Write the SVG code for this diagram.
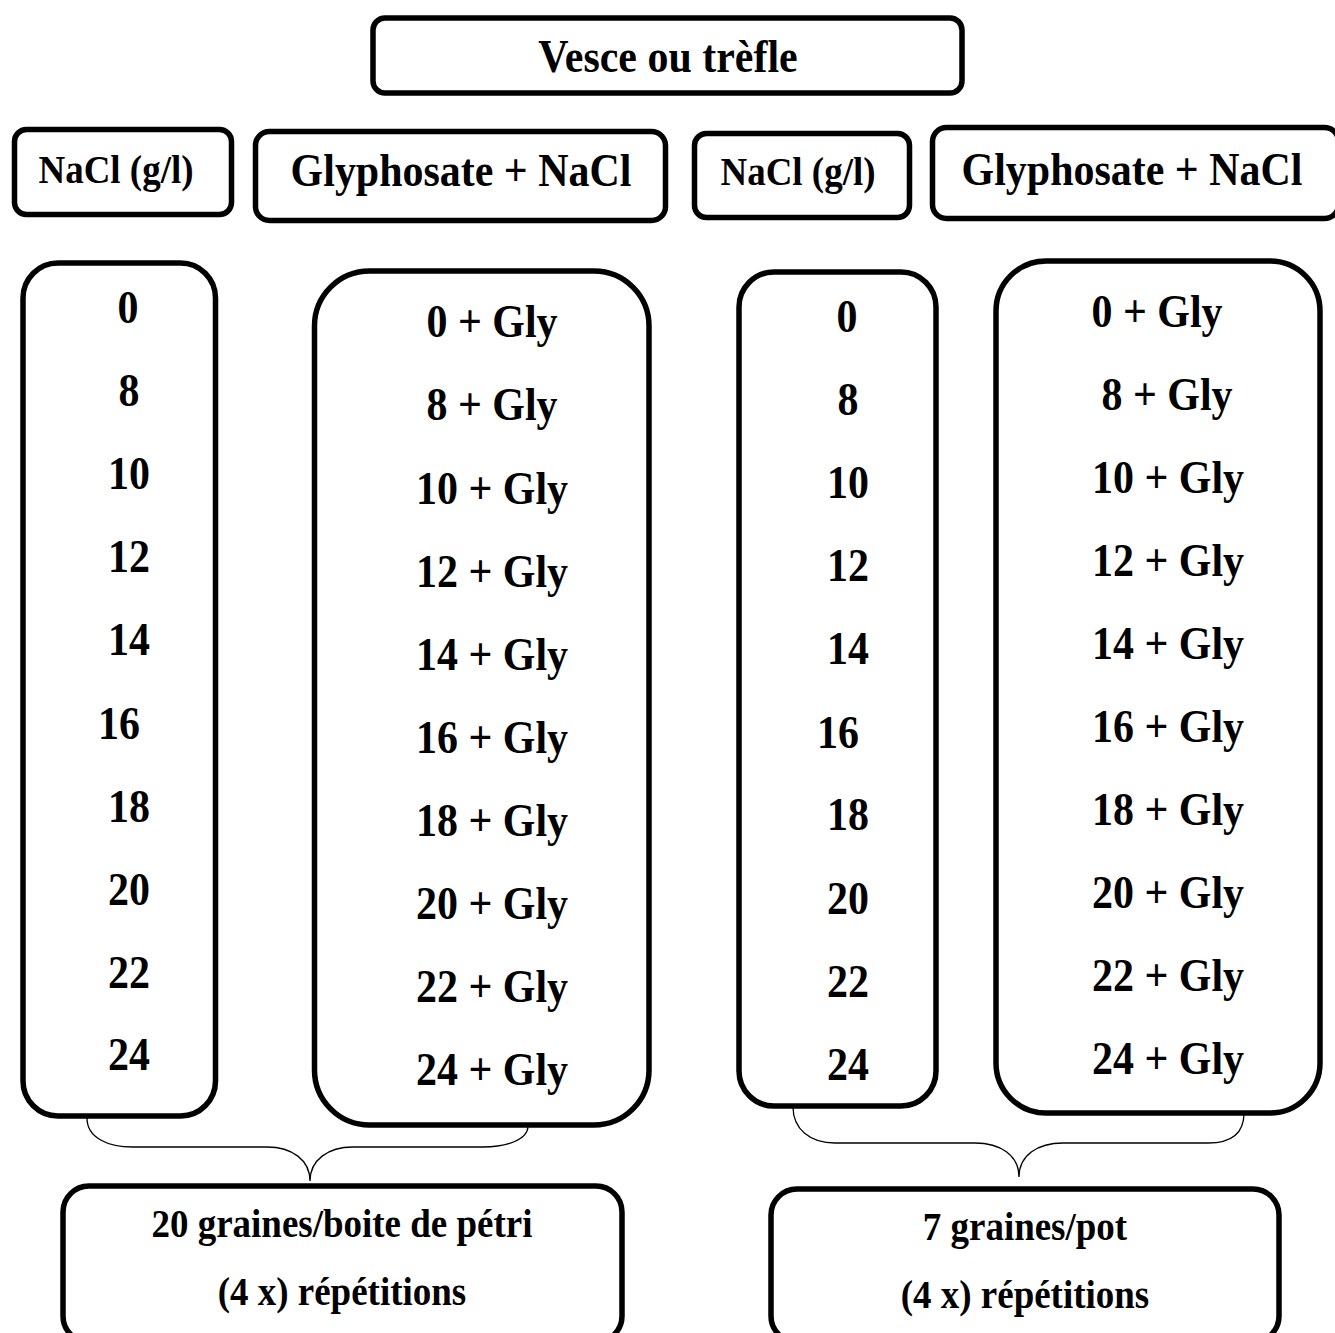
<svg xmlns="http://www.w3.org/2000/svg" width="1335" height="1333" viewBox="0 0 1335 1333">
<style>
.box{fill:#fff;stroke:#000;stroke-width:5.5}
.t{font-family:"Liberation Serif","Times New Roman",serif;font-weight:bold;fill:#000;text-anchor:middle}
.big{font-size:45.6px}
.hd{font-size:40.2px}
.num{font-size:45.6px}
.ft{font-size:40.2px}
.brace{fill:none;stroke:#000;stroke-width:1.3}
</style>
<rect width="1335" height="1333" fill="#fff"/>
<g id="connectors">
<path class="brace" d="M 87 1118 C 87 1138, 108 1147, 133 1147 L 267 1147 C 292 1147, 310 1160, 310 1181 C 310 1160, 328 1147, 353 1147 L 483 1147 C 506 1147, 528 1140, 528 1126"/>
<path class="brace" d="M 793 1107 C 793 1129, 810 1143, 835 1143 L 975 1143 C 1000 1143, 1019 1155, 1019 1177 C 1019 1155, 1038 1143, 1063 1143 L 1208 1143 C 1230 1143, 1244 1134, 1244 1113"/>
</g>
<g id="title">
<rect class="box" x="373" y="18" width="589" height="75" rx="12"/>
<g transform="scale(0.92,1)"><text class="t big" x="726.1" y="72">Vesce ou trèfle</text></g>
</g>
<g id="hdr-nacl-1">
<rect class="box" x="14.5" y="129.5" width="217" height="85" rx="12"/>
<g transform="scale(0.92,1)"><text class="t hd" x="126.1" y="183">NaCl (g/l)</text></g>
</g>
<g id="hdr-gly-1">
<rect class="box" x="255.5" y="131.5" width="410" height="89" rx="14"/>
<g transform="scale(0.92,1)"><text class="t big" x="501.1" y="186">Glyphosate + NaCl</text></g>
</g>
<g id="hdr-nacl-2">
<rect class="box" x="694.5" y="133.5" width="215" height="84" rx="12"/>
<g transform="scale(0.92,1)"><text class="t hd" x="867.4" y="185">NaCl (g/l)</text></g>
</g>
<g id="hdr-gly-2">
<rect class="box" x="932.5" y="127.5" width="406" height="91" rx="14"/>
<g transform="scale(0.92,1)"><text class="t big" x="1230.4" y="185">Glyphosate + NaCl</text></g>
</g>
<g id="col-nacl-1">
<rect class="box" x="23" y="263" width="192.5" height="853" rx="35"/>
<g transform="scale(0.92,1)">
<text class="t num" x="139.1" y="323">0</text>
<text class="t num" x="140.2" y="406">8</text>
<text class="t num" x="140.2" y="489">10</text>
<text class="t num" x="140.2" y="572">12</text>
<text class="t num" x="140.2" y="655">14</text>
<text class="t num" x="129.3" y="739">16</text>
<text class="t num" x="140.2" y="822">18</text>
<text class="t num" x="140.2" y="905">20</text>
<text class="t num" x="140.2" y="988">22</text>
<text class="t num" x="140.2" y="1070">24</text>
</g>
</g>
<g id="col-gly-1">
<rect class="box" x="314.5" y="271" width="334.5" height="854" rx="55"/>
<g transform="scale(0.92,1)">
<text class="t num" x="534.8" y="337">0 + Gly</text>
<text class="t num" x="534.8" y="420">8 + Gly</text>
<text class="t num" x="534.8" y="504">10 + Gly</text>
<text class="t num" x="534.8" y="587">12 + Gly</text>
<text class="t num" x="534.8" y="670">14 + Gly</text>
<text class="t num" x="534.8" y="753">16 + Gly</text>
<text class="t num" x="534.8" y="836">18 + Gly</text>
<text class="t num" x="534.8" y="919">20 + Gly</text>
<text class="t num" x="534.8" y="1002">22 + Gly</text>
<text class="t num" x="534.8" y="1085">24 + Gly</text>
</g>
</g>
<g id="col-nacl-2">
<rect class="box" x="739" y="272" width="197" height="834" rx="35"/>
<g transform="scale(0.92,1)">
<text class="t num" x="920.7" y="332">0</text>
<text class="t num" x="921.7" y="415">8</text>
<text class="t num" x="921.7" y="498">10</text>
<text class="t num" x="921.7" y="581">12</text>
<text class="t num" x="921.7" y="664">14</text>
<text class="t num" x="910.9" y="748">16</text>
<text class="t num" x="921.7" y="830">18</text>
<text class="t num" x="921.7" y="914">20</text>
<text class="t num" x="921.7" y="997">22</text>
<text class="t num" x="921.7" y="1080">24</text>
</g>
</g>
<g id="col-gly-2">
<rect class="box" x="996" y="261" width="324" height="852" rx="50"/>
<g transform="scale(0.92,1)">
<text class="t num" x="1257.6" y="327">0 + Gly</text>
<text class="t num" x="1268.5" y="410">8 + Gly</text>
<text class="t num" x="1269.6" y="493">10 + Gly</text>
<text class="t num" x="1269.6" y="576">12 + Gly</text>
<text class="t num" x="1269.6" y="659">14 + Gly</text>
<text class="t num" x="1269.6" y="742">16 + Gly</text>
<text class="t num" x="1269.6" y="825">18 + Gly</text>
<text class="t num" x="1269.6" y="908">20 + Gly</text>
<text class="t num" x="1269.6" y="991">22 + Gly</text>
<text class="t num" x="1269.6" y="1074">24 + Gly</text>
</g>
</g>
<g id="foot-1">
<rect class="box" x="63" y="1186" width="559" height="156" rx="26"/>
<g transform="scale(0.92,1)">
<text class="t ft" x="371.7" y="1237">20 graines/boite de pétri</text>
<text class="t ft" x="371.7" y="1305">(4 x) répétitions</text>
</g>
</g>
<g id="foot-2">
<rect class="box" x="771" y="1189" width="508" height="153" rx="26"/>
<g transform="scale(0.92,1)">
<text class="t ft" x="1114.1" y="1240">7 graines/pot</text>
<text class="t ft" x="1114.1" y="1308">(4 x) répétitions</text>
</g>
</g>
</svg>
